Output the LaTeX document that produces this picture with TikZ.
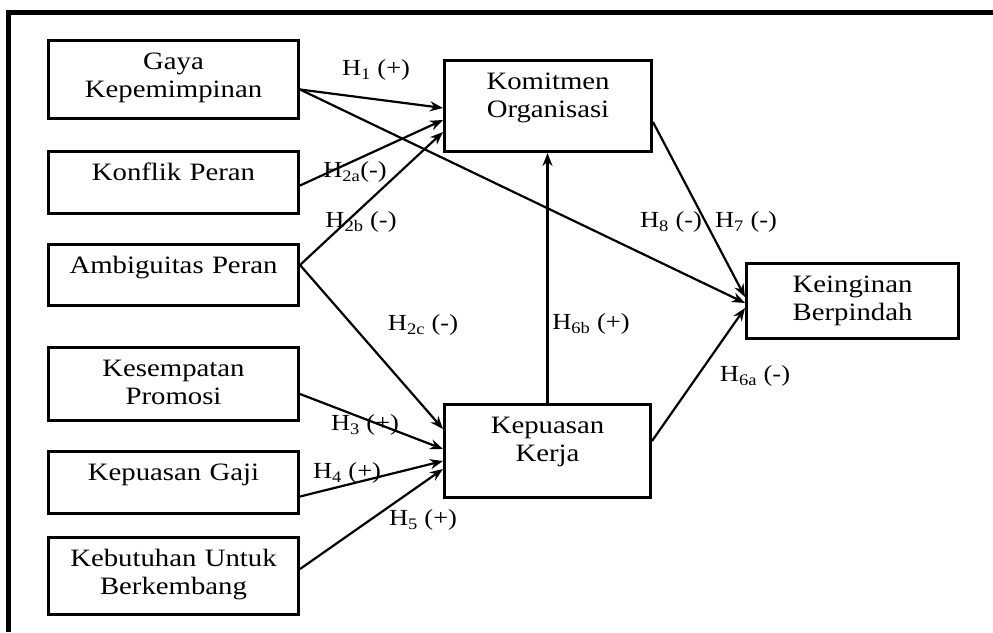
\documentclass[tikz,border=0pt]{standalone}
\usepackage{fontspec}
\setmainfont{Liberation Serif}[FakeStretch=1.15]
\usetikzlibrary{arrows.meta}

\begin{document}
\begin{tikzpicture}[x=1pt,y=-1pt,
		var/.style={draw,line width=3pt,anchor=north west,inner sep=0pt,align=center,text height=29pt,font=\fontsize{25}{28}\selectfont},
		hyp/.style={inner sep=1pt,font=\fontsize{23}{26}\selectfont},
		every edge/.style={draw,line width=2.2pt},>={Stealth[length=13pt,width=10pt]}]
			\useasboundingbox (0,0) rectangle (993,632);
			\draw[line width=4.5pt] (8.5,632) -- (8.5,12.5) -- (993,12.5);

			\node[var,text width=250pt,text depth=49pt] (GK) at (47,39) {Gaya\\Kepemimpinan};
			\node[var,text width=250pt,text depth=33pt] (KP) at (47,150) {Konflik Peran};
			\node[var,text width=250pt,text depth=32pt] (AP) at (47,243) {Ambiguitas Peran};
			\node[var,text width=250pt,text depth=44pt] (KS) at (47,346) {Kesempatan\\Promosi};
			\node[var,text width=250pt,text depth=33pt] (KG) at (47,450) {Kepuasan Gaji};
			\node[var,text width=250pt,text depth=48pt] (KU) at (47,536) {Kebutuhan Untuk\\Berkembang};
			\node[var,text width=207pt,text depth=62pt] (KO) at (443,59) {Komitmen\\Organisasi};
			\node[var,text width=206pt,text depth=64pt] (KK) at (443,403) {Kepuasan\\Kerja};
			\node[var,text width=212pt,text depth=46pt] (KB) at (745,262) {Keinginan\\Berpindah};

			\path[->] ([yshift=-10pt]GK.east) edge ([yshift=-2pt]KO.west)
						 ([yshift=-10pt]GK.east) edge ([yshift=-2pt]KB.west)
						 ([yshift=-3pt]KP.east) edge ([yshift=-14pt]KO.west)
						 ([yshift=10pt]AP.east) edge ([yshift=-26pt]KO.west)
						 ([yshift=10pt]AP.east) edge ([yshift=22pt]KK.west)
						 ([yshift=-10pt]KS.east) edge ([yshift=2pt]KK.west)
						 ([yshift=-14pt]KG.east) edge ([yshift=-10pt]KK.west)
						 ([yshift=7pt]KU.east) edge ([yshift=-18pt]KK.west)
						 (KK.north) edge (KK.north |- KO.south)
						 ([yshift=-16pt]KO.east) edge ([yshift=4pt]KB.west)
						 ([yshift=10pt]KK.east) edge ([yshift=-7pt]KB.west);

			\node[hyp] (h1) at (376,70) {H\textsubscript{1} (+)};
			\node[hyp] (h2a) at (355,172) {H\textsubscript{2a}(-)};
			\node[hyp] (h2b) at (361,222) {H\textsubscript{2b} (-)};
			\node[hyp] (h2c) at (423,325) {H\textsubscript{2c} (-)};
			\node[hyp] (h3) at (365,425) {H\textsubscript{3} (+)};
			\node[hyp] (h4) at (347,473) {H\textsubscript{4} (+)};
			\node[hyp] (h5) at (423,520) {H\textsubscript{5} (+)};
			\node[hyp] (h6b) at (591,324) {H\textsubscript{6b} (+)};
			\node[hyp] (h6a) at (755,376) {H\textsubscript{6a} (-)};
			\node[hyp] (h8) at (671,222) {H\textsubscript{8} (-)};
			\node[hyp] (h7) at (746,222) {H\textsubscript{7} (-)};
		\end{tikzpicture}
\end{document}
